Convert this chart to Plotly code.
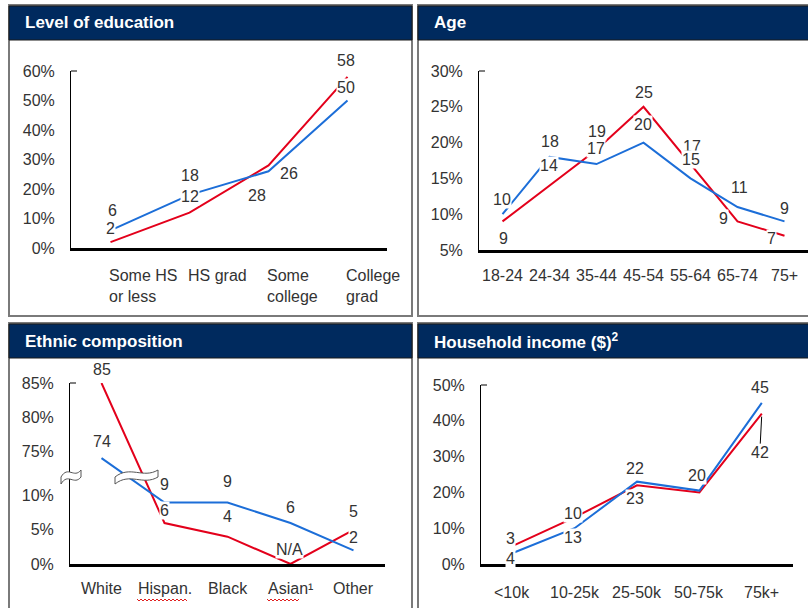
import plotly.graph_objects as go

W, H = 808, 608
RED = "#E3001B"
BLUE = "#1C6ED8"
NAVY = "#002A5E"
TXT = "#333333"
FONT = "Arial, Liberation Sans, sans-serif"

# ---------------- data ----------------
edu_cats = ["Some HS<br>or less", "HS grad", "Some<br>college", "College<br>grad"]
edu_red = [2, 12, 28, 58]
edu_blue = [6, 18, 26, 50]

age_cats = ["18-24", "24-34", "35-44", "45-54", "55-64", "65-74", "75+"]
age_red = [9, 14, 19, 25, 17, 9, 7]
age_blue = [10, 18, 17, 20, 15, 11, 9]

eth_cats = ["White", "Hispan.", "Black", "Asian¹", "Other"]
eth_red = [85, 6, 4, 0, 5]
eth_blue = [74, 9, 9, 6, 2]
eth_red_lbl = ["85", "6", "4", "N/A", "5"]
eth_blue_lbl = ["74", "9", "9", "6", "2"]

inc_cats = ["<10k", "10-25k", "25-50k", "50-75k", "75k+"]
inc_red = [5, 13, 22, 20, 42]
inc_blue = [3, 10, 23, 20.5, 45]
inc_red_lbl = ["3", "10", "23", "20", "42"]
inc_blue_lbl = ["4", "13", "22", "", "45"]

titles = ["Level of education", "Age", "Ethnic composition", "Household income ($)<sup>2</sup>"]


# broken axis (ethnic panel): upper segment 75-85 shifted down
def brk(v):
    return v - 58.5 if v >= 50 else v


def fx(px):
    return px / W


def fy(py):
    return 1 - py / H


fig = go.Figure()

# ---------------- axes geometry (pixel boxes) ----------------
boxes = {
    1: dict(x0=71, x1=387, ytop=71, ybot=248),
    2: dict(x0=479, x1=808, ytop=71, ybot=250),
    3: dict(x0=70, x1=385, ytop=383, ybot=564),
    4: dict(x0=481, x1=793, ytop=385, ybot=564),
}
yranges = {1: [0, 60], 2: [5, 30], 3: [0, brk(85)], 4: [0, 50]}
ncats = {1: len(edu_cats), 2: len(age_cats), 3: len(eth_cats), 4: len(inc_cats)}
yticks = {
    1: [0, 10, 20, 30, 40, 50, 60],
    2: [5, 10, 15, 20, 25, 30],
    3: [0, 5, 10, 75, 80, 85],
    4: [0, 10, 20, 30, 40, 50],
}

layout = dict(
    width=W, height=H, margin=dict(l=0, r=0, t=0, b=0, autoexpand=False),
    paper_bgcolor="white", plot_bgcolor="rgba(0,0,0,0)", showlegend=False,
    font=dict(family=FONT, color=TXT), autosize=False,
)
for k, b in boxes.items():
    sx = "" if k == 1 else str(k)
    tv = yticks[k]
    layout["xaxis" + sx] = dict(
        domain=[fx(b["x0"]), fx(b["x1"])], range=[-0.5, ncats[k] - 0.5],
        anchor="y" + sx, showline=True, linewidth=3, linecolor="black",
        showgrid=False, zeroline=False, showticklabels=False, ticks="", fixedrange=True,
        automargin=False,
    )
    layout["yaxis" + sx] = dict(
        domain=[fy(b["ybot"]), fy(b["ytop"])], range=yranges[k],
        anchor="x" + sx, showline=True, linewidth=1, linecolor="black",
        showgrid=False, zeroline=False, ticks="", tickmode="array",
        tickvals=[brk(v) if k == 3 else v for v in tv],
        ticktext=["{}%".format(v) for v in tv],
        tickfont=dict(family=FONT, size=16, color=TXT), ticklabelstandoff=12, fixedrange=True,
        automargin=False,
    )

fig.update_layout(**layout)


def add_lines(k, red, blue):
    sx = "" if k == 1 else str(k)
    xs = list(range(len(red)))
    fig.add_trace(go.Scatter(x=xs, y=red, mode="lines", line=dict(color=RED, width=2),
                             xaxis="x" + sx, yaxis="y" + sx, hoverinfo="skip"))
    fig.add_trace(go.Scatter(x=xs, y=blue, mode="lines", line=dict(color=BLUE, width=2),
                             xaxis="x" + sx, yaxis="y" + sx, hoverinfo="skip"))


add_lines(1, edu_red, edu_blue)
add_lines(2, age_red, age_blue)
add_lines(3, [brk(v) for v in eth_red], [brk(v) for v in eth_blue])
add_lines(4, inc_red, inc_blue)

annotations = []
shapes = []


def lbl(k, x, y, text, dx, dy, **kw):
    if not text:
        return
    sx = "" if k == 1 else str(k)
    a = dict(x=x, y=y, xref="x" + sx, yref="y" + sx, text=text, showarrow=False,
             xshift=dx, yshift=dy, bgcolor="white", borderpad=0,
             font=dict(family=FONT, size=16, color=TXT), xanchor="center", yanchor="middle")
    a.update(kw)
    annotations.append(a)


# panel 1 labels: (series, index, dx, dy)
S = {"r": edu_red, "b": edu_blue}
for s, i, dx, dy in [("b", 0, 2, 20), ("r", 0, 0, 14), ("b", 1, 0, 19), ("r", 1, 0, 16),
                     ("r", 2, -12, -30), ("b", 2, 20, -2), ("r", 3, -2, 16), ("b", 3, -2, 13)]:
    lbl(1, i, S[s][i], str(S[s][i]), dx, dy)

# panel 2
S = {"r": age_red, "b": age_blue}
for s, i, dx, dy in [("b", 0, -1, 15), ("r", 0, 1, -17), ("b", 1, 0, 15), ("r", 1, -1, 20),
                     ("r", 2, 0, 18), ("b", 2, -1, 16), ("r", 3, 0, 14), ("b", 3, -1, 18),
                     ("r", 4, 1, 18), ("b", 4, 0, 19), ("b", 5, 2, 20), ("r", 5, -14, 3),
                     ("b", 6, 0, 13), ("r", 6, -13, -3)]:
    lbl(2, i, S[s][i], str(S[s][i]), dx, dy)

# panel 3
S = {"r": (eth_red, eth_red_lbl), "b": (eth_blue, eth_blue_lbl)}
for s, i, dx, dy in [("r", 0, 0, 14), ("b", 0, 0, 17), ("b", 1, 0, 18), ("r", 1, 0, 13),
                     ("b", 2, 0, 21), ("r", 2, 0, 20), ("b", 3, 0, 16), ("r", 3, -1, 15),
                     ("r", 4, 0, 18), ("b", 4, 0, 13)]:
    vals, txts = S[s]
    lbl(3, i, brk(vals[i]), txts[i], dx, dy)

# panel 4
S = {"r": (inc_red, inc_red_lbl), "b": (inc_blue, inc_blue_lbl)}
for s, i, dx, dy in [("r", 0, -2, 8), ("b", 0, -2, -5), ("r", 1, -2, 4), ("b", 1, -2, -9),
                     ("b", 2, -2, 13), ("r", 2, -2, -13), ("r", 3, -2, 17), ("b", 4, -2, 15)]:
    vals, txts = S[s]
    lbl(4, i, vals[i], txts[i], dx, dy)
# leader-line label
annotations.append(dict(x=4, y=inc_red[4], xref="x4", yref="y4", text=inc_red_lbl[4],
                        showarrow=True, arrowhead=0, arrowwidth=1, arrowcolor="black",
                        ax=-2, ay=39, standoff=3, bgcolor="white", borderpad=0,
                        font=dict(family=FONT, size=16, color=TXT)))

# ---------------- category labels ----------------
for i, c in enumerate(edu_cats):
    annotations.append(dict(x=i, y=fy(265), xref="x", yref="paper", text=c, showarrow=False,
                            xanchor="left", yanchor="top", align="left",
                            font=dict(family=FONT, size=16, color=TXT), xshift=-4))
for i, c in enumerate(age_cats):
    annotations.append(dict(x=i, y=fy(275), xref="x2", yref="paper", text=c, showarrow=False,
                            xanchor="center", yanchor="middle",
                            font=dict(family=FONT, size=16, color=TXT)))
for i, c in enumerate(eth_cats):
    annotations.append(dict(x=i, y=fy(588), xref="x3", yref="paper", text=c, showarrow=False,
                            xanchor="center", yanchor="middle",
                            font=dict(family=FONT, size=16, color=TXT)))
for i, c in enumerate(inc_cats):
    annotations.append(dict(x=i, y=fy(592), xref="x4", yref="paper", text=c, showarrow=False,
                            xanchor="center", yanchor="middle",
                            font=dict(family=FONT, size=16, color=TXT)))

# ---------------- panel frames & headers ----------------
panels = [(9, 412, 5, 316, 23), (418, 812, 5, 316, 432), (9, 412, 323, 612, 23), (418, 812, 323, 612, 432)]
for (x0, x1, y0, y1, tx), t in zip(panels, titles):
    shapes.append(dict(type="rect", xref="paper", yref="paper", x0=fx(x0), x1=fx(x1), y0=fy(y1), y1=fy(y0),
                       line=dict(color="#7a7a7a", width=2), fillcolor="rgba(0,0,0,0)", layer="below"))
    shapes.append(dict(type="rect", xref="paper", yref="paper", x0=fx(x0), x1=fx(x1), y0=fy(y0 + 35), y1=fy(y0 + 1),
                       line=dict(color="#1a1a1a", width=1), fillcolor=NAVY, layer="below"))
    annotations.append(dict(x=fx(tx), y=fy(y0 + 18), xref="paper", yref="paper", text="<b>" + t + "</b>",
                            showarrow=False, xanchor="left", yanchor="middle",
                            font=dict(family=FONT, size=17, color="white")))

# small top tick on each y axis
for k, b in boxes.items():
    shapes.append(dict(type="line", xref="paper", yref="paper", x0=fx(b["x0"]), x1=fx(b["x0"] + 6),
                       y0=fy(b["ytop"]), y1=fy(b["ytop"]), line=dict(color="black", width=1)))


# axis-break symbols on ethnic panel
def wave_band(xl, xr, yc, h):
    w = xr - xl
    top = [(xl, yc + 3), (xl + w * 0.35, yc - 9), (xl + w * 0.65, yc + 5), (xr, yc - 4)]
    p = "M {},{} C {},{} {},{} {},{}".format(*[v for pt in [(fx(a), fy(b)) for a, b in top] for v in pt])
    bot = [(xr, yc - 4 + h), (xl + w * 0.65, yc + 5 + h), (xl + w * 0.35, yc - 9 + h), (xl, yc + 3 + h)]
    p += " L {},{} C {},{} {},{} {},{} Z".format(*[v for pt in [(fx(a), fy(b)) for a, b in bot] for v in pt])
    return p


for xl, xr in [(61, 81), (115, 158)]:
    shapes.append(dict(type="path", xref="paper", yref="paper", path=wave_band(xl, xr, 474, 7),
                       fillcolor="white", line=dict(color="#555555", width=1), layer="above"))


# spell-check squiggles under "Hispan." and "Asian"
def squiggle(xa, xb, y):
    pts = []
    x, up = xa, True
    while x <= xb:
        pts.append((fx(x), fy(y - 1 if up else y + 1)))
        x += 2
        up = not up
    return "M " + " L ".join("{},{}".format(a, b) for a, b in pts)


for xa, xb in [(137, 187), (267, 300)]:
    shapes.append(dict(type="path", xref="paper", yref="paper", path=squiggle(xa, xb, 600),
                       line=dict(color="#E02020", width=1), layer="above"))

fig.update_layout(annotations=annotations, shapes=shapes)
fig.write_html(
    "out.html",
    config={"responsive": False, "displayModeBar": False},
    post_script="document.body.style.margin='0px';document.body.style.padding='0px';",
)
